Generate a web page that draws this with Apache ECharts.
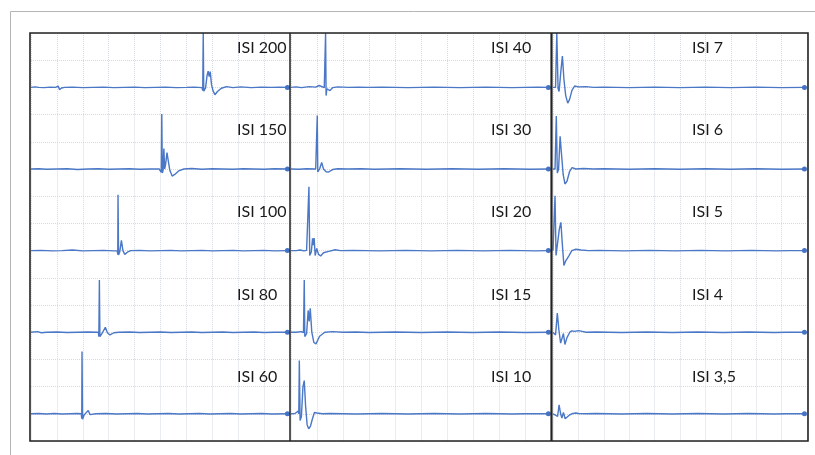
<!DOCTYPE html>
<html>
<head>
<meta charset="utf-8">
<script src="https://cdn.jsdelivr.net/npm/echarts@6/dist/echarts.min.js"></script>
<style>html,body{margin:0;padding:0;background:#fff;}#c{width:815px;height:455px;}</style>
</head>
<body>
<div id="c"></div>
<script>
// Panel labels, column by column (top to bottom)
const labels = [
  ['ISI 200','ISI 150','ISI 100','ISI 80','ISI 60'],
  ['ISI 40','ISI 30','ISI 20','ISI 15','ISI 10'],
  ['ISI 7','ISI 6','ISI 5','ISI 4','ISI 3,5']
];

// Traces: [time (grid units 0..10), amplitude (grid units, baseline = 1)]
const isi200 = [[0,1.0],[0.15,1.02],[0.3,1.0],[0.5,0.99],[0.75,1.01],[0.95,1.0],[1.05,1.05],[1.1,0.92],[1.18,0.98],[1.3,1.0],[1.6,1.01],[2.0,0.99],[2.4,1.0],[2.8,1.01],[3.2,0.99],[3.6,1.0],[4.0,1.01],[4.4,0.99],[4.8,1.0],[5.2,1.01],[5.6,0.99],[6.0,1.0],[6.3,1.01],[6.6,0.99],[6.63,0.88],[6.65,3.0],[6.67,0.86],[6.74,0.98],[6.8,1.45],[6.84,1.6],[6.88,1.4],[6.92,1.58],[6.97,1.1],[7.02,0.9],[7.1,0.73],[7.2,0.85],[7.35,0.97],[7.55,1.03],[7.8,0.99],[8.1,1.02],[8.5,0.99],[8.9,1.01],[9.3,1.0],[9.6,1.01],[9.9,1.0]];
const isi150 = [[0,1.0],[0.3,1.01],[0.6,0.99],[1.0,1.0],[1.4,1.01],[1.8,0.98],[2.2,1.0],[2.6,1.01],[3.0,0.99],[3.4,1.0],[3.8,1.01],[4.2,0.99],[4.6,1.0],[4.95,1.0],[5.03,0.88],[5.05,3.02],[5.07,0.85],[5.1,0.95],[5.13,1.75],[5.16,1.0],[5.2,1.2],[5.25,1.6],[5.3,1.3],[5.36,0.95],[5.45,0.74],[5.55,0.8],[5.7,0.93],[5.9,1.0],[6.2,1.02],[6.6,0.99],[7.0,1.01],[7.4,1.0],[7.8,0.99],[8.2,1.01],[8.6,1.0],[9.0,0.99],[9.4,1.01],[9.9,1.0]];
const isi100 = [[0,1.0],[0.4,1.01],[0.8,0.99],[1.2,1.0],[1.6,1.02],[2.0,0.99],[2.4,1.0],[2.8,1.01],[3.2,0.99],[3.33,1.0],[3.35,0.85],[3.36,3.05],[3.38,0.84],[3.43,0.97],[3.49,1.38],[3.55,1.0],[3.62,0.86],[3.72,0.94],[3.85,1.0],[4.2,1.01],[4.6,0.99],[5.0,1.0],[5.4,1.01],[5.8,0.99],[6.2,1.0],[6.6,1.01],[7.0,0.99],[7.4,1.0],[7.8,1.01],[8.2,0.99],[8.6,1.0],[9.0,1.01],[9.4,0.99],[9.9,1.0]];
const isi80 = [[0,1.0],[0.25,1.02],[0.4,0.98],[0.6,1.0],[1.0,1.01],[1.4,0.99],[1.8,1.0],[2.2,1.01],[2.6,1.0],[2.62,0.84],[2.64,2.92],[2.66,0.84],[2.75,0.97],[2.87,1.18],[2.95,0.98],[3.05,0.9],[3.2,0.98],[3.4,1.0],[3.8,1.01],[4.2,0.99],[4.6,1.0],[5.0,1.01],[5.4,0.99],[5.8,1.0],[6.2,1.01],[6.6,0.99],[7.0,1.0],[7.4,1.01],[7.8,0.99],[8.2,1.0],[8.6,1.01],[9.0,0.99],[9.4,1.0],[9.9,1.0]];
const isi60 = [[0,1.0],[0.3,1.01],[0.6,0.99],[0.9,1.01],[1.2,0.99],[1.5,1.0],[1.8,1.01],[1.94,1.0],[1.96,0.82],[1.97,3.29],[1.99,0.8],[2.06,0.97],[2.13,0.96],[2.21,1.12],[2.28,0.97],[2.35,0.93],[2.5,1.0],[2.9,1.01],[3.3,0.99],[3.7,1.0],[4.1,1.01],[4.5,0.99],[4.9,1.0],[5.3,1.01],[5.7,0.99],[6.1,1.0],[6.5,1.01],[6.9,0.99],[7.3,1.0],[7.7,1.01],[8.1,0.99],[8.5,1.0],[8.9,1.01],[9.3,0.99],[9.9,1.0]];

const isi40 = [[0,1.0],[0.2,1.02],[0.4,0.99],[0.7,1.03],[0.95,1.01],[1.08,1.07],[1.15,1.0],[1.28,0.99],[1.31,0.95],[1.33,3.0],[1.35,0.7],[1.38,0.95],[1.43,1.0],[1.5,0.88],[1.6,0.99],[1.8,1.02],[2.2,1.0],[2.6,1.01],[3.0,1.0],[3.5,1.01],[4.0,1.0],[4.5,0.99],[5.0,1.0],[5.5,1.01],[6.0,1.0],[6.5,0.99],[7.0,1.0],[7.5,1.01],[8.0,1.0],[8.5,0.99],[9.0,1.0],[9.5,1.01],[9.9,1.0]];
const isi30 = [[0,1.0],[0.3,0.99],[0.6,1.01],[0.95,1.0],[0.99,0.95],[1.01,2.97],[1.03,0.89],[1.1,1.0],[1.18,1.24],[1.25,1.0],[1.35,0.9],[1.45,0.89],[1.6,0.98],[1.8,1.01],[2.2,1.0],[2.7,1.01],[3.2,0.99],[3.7,1.0],[4.2,1.01],[4.7,1.0],[5.2,0.99],[5.7,1.0],[6.2,1.01],[6.7,1.0],[7.2,0.99],[7.7,1.0],[8.2,1.01],[8.7,1.0],[9.2,0.99],[9.9,1.0]];
const isi20 = [[0,1.0],[0.2,1.0],[0.35,1.02],[0.5,0.99],[0.6,1.01],[0.66,0.98],[0.69,3.35],[0.72,0.82],[0.78,0.95],[0.83,1.45],[0.86,1.2],[0.89,1.46],[0.93,0.82],[0.99,1.08],[1.06,0.86],[1.14,0.8],[1.25,0.92],[1.45,0.97],[1.7,1.03],[1.9,1.0],[2.4,1.01],[2.9,1.0],[3.4,0.99],[3.9,1.0],[4.4,1.01],[4.9,1.0],[5.4,0.99],[5.9,1.0],[6.4,1.01],[6.9,1.0],[7.4,0.99],[7.9,1.0],[8.4,1.01],[8.9,1.0],[9.4,0.99],[9.9,1.0]];
const isi15 = [[0,1.0],[0.2,1.0],[0.4,1.02],[0.45,1.08],[0.48,0.98],[0.51,2.92],[0.53,0.84],[0.6,0.95],[0.66,1.8],[0.7,1.4],[0.74,1.88],[0.8,1.0],[0.88,0.62],[0.96,0.57],[1.1,0.85],[1.3,1.0],[1.6,1.02],[2.0,1.0],[2.5,1.01],[3.0,0.99],[3.5,1.0],[4.0,1.01],[4.5,1.0],[5.0,0.99],[5.5,1.0],[6.0,1.01],[6.5,1.0],[7.0,0.99],[7.5,1.0],[8.0,1.01],[8.5,1.0],[9.0,0.99],[9.9,1.0]];
const isi10 = [[0,1.0],[0.15,1.01],[0.22,0.98],[0.28,1.1],[0.3,1.0],[0.32,2.96],[0.35,0.75],[0.4,0.9],[0.46,2.0],[0.51,2.22],[0.56,1.3],[0.62,0.6],[0.68,0.45],[0.75,0.55],[0.82,0.8],[0.9,1.05],[1.0,1.03],[1.2,1.0],[1.5,1.01],[2.0,1.0],[2.5,0.99],[3.0,1.0],[3.5,1.01],[4.0,1.0],[4.5,0.99],[5.0,1.0],[5.5,1.01],[6.0,1.0],[6.5,0.99],[7.0,1.0],[7.5,1.01],[8.0,1.0],[8.5,0.99],[9.0,1.0],[9.9,1.0]];

const isi7 = [[0,1.0],[0.1,1.0],[0.13,0.98],[0.15,3.0],[0.2,0.95],[0.24,0.85],[0.31,1.6],[0.37,2.15],[0.43,1.3],[0.5,0.7],[0.58,0.42],[0.65,0.55],[0.75,0.9],[0.85,1.05],[1.0,1.02],[1.3,1.03],[1.6,1.0],[2.0,1.01],[2.5,1.0],[3.0,0.99],[3.5,1.0],[4.0,1.01],[4.5,1.0],[5.0,0.99],[5.5,1.0],[6.0,1.01],[6.5,1.0],[7.0,0.99],[7.5,1.0],[8.0,1.01],[8.5,1.0],[9.0,0.99],[9.9,1.0]];
const isi6 = [[0,1.0],[0.08,1.0],[0.11,0.97],[0.13,2.95],[0.17,0.85],[0.22,1.0],[0.28,2.2],[0.33,1.6],[0.4,0.8],[0.47,0.45],[0.55,0.55],[0.65,0.9],[0.75,1.05],[0.9,1.0],[1.2,1.02],[1.6,1.0],[2.0,1.01],[2.5,1.0],[3.0,0.99],[3.5,1.0],[4.0,1.01],[4.5,1.0],[5.0,0.99],[5.5,1.0],[6.0,1.01],[6.5,1.0],[7.0,0.99],[7.5,1.0],[8.0,1.01],[8.5,1.0],[9.0,0.99],[9.9,1.0]];
const isi5 = [[0,1.0],[0.05,0.98],[0.08,3.02],[0.12,0.82],[0.18,0.85],[0.25,1.8],[0.31,2.04],[0.37,1.2],[0.43,0.45],[0.49,0.6],[0.54,0.57],[0.62,0.8],[0.74,1.0],[0.9,1.05],[1.1,1.02],[1.4,1.0],[1.8,1.01],[2.3,1.0],[2.8,0.99],[3.3,1.0],[3.8,1.01],[4.3,1.0],[4.8,0.99],[5.3,1.0],[5.8,1.01],[6.3,1.0],[6.8,0.99],[7.3,1.0],[7.8,1.01],[8.3,1.0],[8.8,0.99],[9.3,1.0],[9.9,1.0]];
const isi4 = [[0,1.0],[0.06,0.95],[0.1,0.9],[0.17,1.7],[0.23,1.1],[0.3,0.6],[0.35,0.53],[0.41,0.95],[0.47,0.55],[0.55,0.8],[0.66,1.0],[0.74,1.05],[0.85,1.03],[1.0,1.06],[1.15,1.03],[1.3,1.0],[1.7,1.01],[2.2,1.0],[2.7,0.99],[3.2,1.0],[3.7,1.01],[4.2,1.0],[4.7,0.99],[5.2,1.0],[5.7,1.01],[6.2,1.0],[6.7,0.99],[7.2,1.0],[7.7,1.01],[8.2,1.0],[8.7,0.99],[9.2,1.0],[9.9,1.0]];
const isi35 = [[0,1.0],[0.1,0.95],[0.18,0.9],[0.24,1.33],[0.3,1.0],[0.35,0.84],[0.41,1.05],[0.48,0.82],[0.54,0.78],[0.64,0.95],[0.74,1.0],[0.9,1.03],[1.0,1.01],[1.3,1.0],[1.7,1.01],[2.2,1.0],[2.7,0.99],[3.2,1.0],[3.7,1.01],[4.2,1.0],[4.7,0.99],[5.2,1.0],[5.7,1.01],[6.2,1.0],[6.7,0.99],[7.2,1.0],[7.7,1.01],[8.2,1.0],[8.7,0.99],[9.2,1.0],[9.9,1.0]];

const traces = [
  [isi200, isi150, isi100, isi80, isi60],
  [isi40, isi30, isi20, isi15, isi10],
  [isi7, isi6, isi5, isi4, isi35]
];

// Layout
const colLeft = [31, 291, 553];
const colWidth = [259, 260, 254];
const rowTop = 33, rowH = 81.6;
const labelX = [237, 491, 692];
const labelY = [48, 130, 212, 295, 377];

const grids = [], xAxes = [], yAxes = [], series = [], graphics = [];
const gridLine = {show: true, lineStyle: {color: '#d6dae4', type: 'dotted', width: 1}};
let k = 0;
for (let c = 0; c < 3; c++) {
  for (let r = 0; r < 5; r++) {
    grids.push({left: colLeft[c], top: rowTop + r * rowH, width: colWidth[c], height: rowH});
    xAxes.push({type: 'value', gridIndex: k, min: 0, max: 10, interval: 1,
      axisLine: {show: false}, axisTick: {show: false}, axisLabel: {show: false}, splitLine: gridLine});
    yAxes.push({type: 'value', gridIndex: k, min: 0, max: 3, interval: 1,
      axisLine: {show: false}, axisTick: {show: false}, axisLabel: {show: false}, splitLine: gridLine});
    const d = traces[c][r];
    const last = d.length - 1;
    series.push({type: 'line', xAxisIndex: k, yAxisIndex: k, data: d, clip: false,
      symbol: 'circle', showSymbol: true, showAllSymbol: true,
      symbolSize: (v, p) => p.dataIndex === last ? 5 : 0,
      itemStyle: {color: '#4472C4'},
      lineStyle: {color: '#4a77c6', width: 1.4}, z: 5});
    graphics.push({type: 'text', x: labelX[c], y: labelY[r], z: 50,
      style: {text: labels[c][r], font: '16px Lato', fill: '#1a1a1a',
        textAlign: 'left', textVerticalAlign: 'middle', verticalAlign: 'middle'}});
    k++;
  }
}
graphics.push({type: 'rect', z: 1, shape: {x: 10.5, y: 11.5, width: 900, height: 900},
  style: {fill: 'none', stroke: '#b5b5b5', lineWidth: 1}});
graphics.push({type: 'rect', z: 100, shape: {x: 30, y: 33, width: 778, height: 408},
  style: {fill: 'none', stroke: '#222', lineWidth: 1.6}});
graphics.push({type: 'line', z: 100, shape: {x1: 290, y1: 33, x2: 290, y2: 441},
  style: {stroke: '#222', lineWidth: 1.5}});
graphics.push({type: 'line', z: 100, shape: {x1: 551.5, y1: 33, x2: 551.5, y2: 441},
  style: {stroke: '#222', lineWidth: 2.2}});

const chart = echarts.init(document.getElementById('c'));
chart.setOption({animation: false, grid: grids, xAxis: xAxes, yAxis: yAxes, series: series, graphic: graphics});
</script>
</body>
</html>
